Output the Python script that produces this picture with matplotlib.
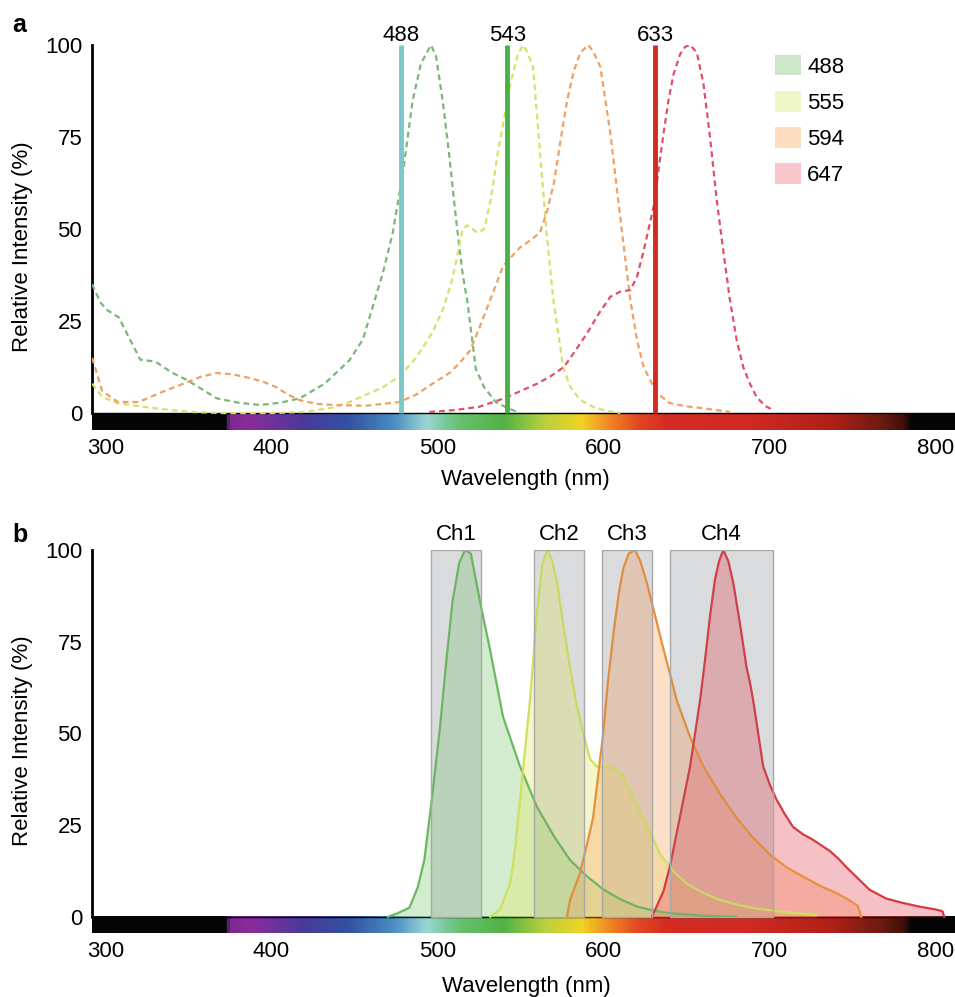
import numpy as np
import matplotlib
matplotlib.use("Agg")
import matplotlib.pyplot as plt
from matplotlib.colors import LinearSegmentedColormap, Normalize
from matplotlib.patches import Patch

plt.rcParams['font.family'] = ['Liberation Sans', 'DejaVu Sans']

## panel a : excitation spectra (dashed) + laser lines
ex488_nm = [292, 297, 301, 308, 321, 330, 340, 349, 358, 367, 380, 393, 405, 417, 432, 447, 455, 461, 467,
            473, 479, 485, 490, 496, 499, 503, 507, 511, 515, 518, 523, 528, 535, 542, 548]
ex488 = [35, 30, 28, 26, 14.5, 14, 11, 9, 6.5, 4, 2.8, 2.2, 2.8, 4, 8, 14.4, 20, 29, 38,
         49, 65, 85, 95, 100, 97, 85, 70, 53, 38, 30, 12, 7, 3, 1.4, 0.3]

ex555_nm = [292, 298, 307, 318, 328, 340, 352, 370, 400, 420, 437, 447, 457, 467, 477, 487, 497, 503, 508,
            512, 515, 518, 524, 528, 532, 536, 540, 544, 548, 551.5, 554, 557.5, 561.6, 565.6, 569.6, 575.6,
            580, 586, 593, 600, 610]
ex555 = [8, 4.4, 2.7, 2, 1.4, 0.8, 0.3, 0, 0, 0.3, 1.5, 3, 5, 7, 10, 15, 22, 28, 35,
         43, 50, 51, 49, 50, 58, 70, 80, 90, 97, 100, 98, 94, 71, 49, 31, 12.5,
         7, 3.5, 1.8, 0.8, 0]

ex594_nm = [292, 298, 307.5, 320, 334, 347, 357, 367, 377, 387, 395, 403, 410, 417, 427, 437, 457, 477, 487,
            497, 507.5, 514, 519.5, 525, 531.6, 539.5, 549.6, 556, 561.6, 566, 570, 574, 578, 582, 586,
            590.8, 594, 598, 604, 610, 616, 620, 624, 632, 640, 650, 660, 676]
ex594 = [15, 6, 3, 3, 5.7, 8, 9.8, 10.9, 10.5, 9.5, 8.5, 7, 5, 3.5, 2.5, 2.2, 2, 3, 5,
         8, 11, 14, 17, 23, 30.7, 40, 45, 47, 49, 55, 62.5, 74, 85, 93, 98,
         100, 98, 94, 76, 53, 30.7, 20, 12.5, 5.4, 2.7, 1.8, 1.3, 0.3]

ex647_nm = [495, 510, 525, 540, 550, 560, 568, 576, 583, 590, 597, 604, 610, 616, 620, 624, 627, 630, 633,
            636, 639, 642, 646, 649, 652, 656, 660, 664, 668, 672, 676, 680, 684, 688, 692, 697, 702]
ex647 = [0.3, 0.8, 1.7, 4, 6, 8, 10, 12.5, 17, 21.7, 27, 31.6, 33, 33.4, 37, 44, 50, 56, 66,
         76, 85, 92, 97.5, 99.5, 100, 98, 89.6, 75, 58, 44, 30.7, 20, 12.5, 8, 4.4, 2, 0.8]

laser_labels = ["488", "543", "633"]
laser_pos = [478, 542, 631]
dye_labels = ["488", "555", "594", "647"]

## panel b : emission spectra (filled) + detection channels
em488_nm = [470, 476, 483, 488, 492, 497, 501.5, 505.5, 509, 513, 516.5, 520, 525.5, 531.6, 539.4, 549.6,
            559.8, 570, 579.7, 590, 600, 610, 620, 630, 640, 660, 680]
em488 = [0, 1, 2.5, 8, 15.5, 34, 52, 71, 86, 96.5, 100, 99, 86, 72.7, 54.5, 41,
         30, 22, 15.5, 11, 7.4, 4.8, 2.8, 1.7, 1, 0.3, 0]

em555_nm = [531.6, 537.6, 543.6, 546.5, 549.6, 552.5, 555.6, 559.6, 563, 566, 569, 571.9, 575.5, 579.7,
            583.5, 587.7, 591.8, 595.8, 600, 603.8, 607.5, 610.8, 615.6, 619.5, 623.7, 629, 634, 642, 650,
            660, 670, 680, 690, 710, 728]
em555 = [0, 2, 9, 18, 32, 45, 59, 82, 96, 100, 97, 91, 80, 68,
         58, 50, 43, 41, 41, 41, 40, 39, 34.6, 31, 27, 22, 17, 12.5, 9,
         6.5, 4.6, 3.4, 2.4, 1.2, 0.5]

em594_nm = [577.9, 579.7, 582.5, 585.8, 589.5, 593.6, 596.5, 599.7, 602.5, 605.8, 609, 611.8, 615, 618.8,
            622, 626, 631, 636, 640, 644, 652, 660, 670, 680, 690, 700, 710, 720, 730, 740, 748, 753, 755]
em594 = [0, 4.6, 8, 12, 19, 27, 38, 50, 64, 77, 88, 95, 99, 100,
         97, 91, 82, 73, 66, 59, 49, 41, 33.5, 27, 21.5, 17, 13.5, 11, 8.5, 6.5, 4.5, 3, 0]

em647_nm = [629, 632, 636, 640, 644, 648, 652, 655, 658, 661, 664, 667, 669.5, 672, 675, 678, 682, 686, 688,
            690, 693, 696, 700, 704, 709, 714, 720, 726, 731, 736, 741, 746, 753, 760, 770, 780, 790, 800,
            804, 805]
em647 = [0, 3, 7, 14, 23, 32, 41, 50, 59, 70, 82, 92, 97, 100, 97, 91, 80, 68, 64,
         59, 50, 41, 36, 32, 28, 24.5, 22.5, 21, 19.5, 18, 16, 13.6, 10.5, 7.4, 5, 3.8, 2.8, 2,
         1.5, 0]

ch_labels = ["Ch1", "Ch2", "Ch3", "Ch4"]
ch_lo = [496, 558, 599, 640]
ch_hi = [526, 588, 629, 702]

y_ticks = [0, 25, 50, 75, 100]
x_ticks = [300, 400, 500, 600, 700, 800]

xlo, xhi = 291.9, 811.5

# spectrum bar colours (nm, colour)
spec_stops = [(291.9, "#050505"), (372.0, "#050505"), (374.0, "#7a2a8e"), (386, "#8a2c9c"),
              (419, "#4a3a9a"), (446, "#3352a2"), (473, "#4a8cc2"), (493, "#9ad6d4"),
              (513, "#66c070"), (540, "#52b244"), (564, "#b8d040"), (587, "#f0d424"),
              (604, "#f08424"), (621, "#e24822"), (638, "#d42c22"), (688, "#d02a22"),
              (739, "#b02018"), (769, "#6a1a12"), (782, "#401008"), (786, "#050505"), (811.5, "#050505")]
spec_cmap = LinearSegmentedColormap.from_list(
    "spec", [((p - xlo) / (xhi - xlo), c) for p, c in spec_stops])

fig = plt.figure(figsize=(9.55, 9.97), dpi=100)
ax_a = fig.add_axes([92/955, 1-430/997, 863/955, 385/997])
ax_b = fig.add_axes([92/955, 1-933/997, 863/955, 383/997])


def setup(ax, ybot):
    grad = np.linspace(xlo, xhi, 800)[None, :]
    ax.imshow(grad, cmap=spec_cmap, norm=Normalize(xlo, xhi), extent=[xlo, xhi, ybot, 0],
              aspect='auto', zorder=0, interpolation='bilinear')
    ax.plot([xlo, xhi], [0, 0], color="black", lw=1.0, zorder=1)
    ax.set_xlim(xlo, xhi)
    ax.set_ylim(ybot, 100)
    for s in ["top", "right", "bottom"]:
        ax.spines[s].set_visible(False)
    ax.spines["left"].set_linewidth(2)
    ax.spines["left"].set_bounds(0, 100)
    ax.set_xticks(x_ticks)
    ax.set_yticks(y_ticks)
    ax.tick_params(axis="x", length=0, labelsize=16, pad=6)
    ax.tick_params(axis="y", length=0, labelsize=16, pad=7)


setup(ax_a, -4.6)
setup(ax_b, -4.4)

## panel a
dash = (0, (2.6, 1.8))
ex_cols = ["#78b878", "#d8e06a", "#f0a060", "#e0506a"]
ax_a.plot(ex488_nm, ex488, color=ex_cols[0], lw=1.6, ls=dash, zorder=3)
ax_a.plot(ex555_nm, ex555, color=ex_cols[1], lw=1.6, ls=dash, zorder=3)
ax_a.plot(ex594_nm, ex594, color=ex_cols[2], lw=1.6, ls=dash, zorder=3)
ax_a.plot(ex647_nm, ex647, color=ex_cols[3], lw=1.6, ls=dash, zorder=3)

laser_cols = ["#7cc8c8", "#4caf48", "#d22a1e"]
for p, lab, c in zip(laser_pos, laser_labels, laser_cols):
    ax_a.plot([p, p], [0, 100], color=c, lw=3.5, solid_capstyle="butt", zorder=4)
    ax_a.text(p, 101.2, lab, ha="center", va="baseline", fontsize=16, clip_on=False)

leg_cols = ["#cce7c8", "#eef6c8", "#fddec0", "#f8c6cb"]
handles = [Patch(facecolor=c, edgecolor="none") for c in leg_cols]
ax_a.legend(handles, dye_labels, loc="upper left", bbox_to_anchor=(775/955, 1-55/997),
            bbox_transform=fig.transFigure, frameon=False, fontsize=16, borderpad=0,
            borderaxespad=0, handlelength=1.17, handleheight=1.04, handletextpad=0.28,
            labelspacing=0.6)

## panel b
# detection windows underneath, fills on top, window outlines last
for lo, hi, lab in zip(ch_lo, ch_hi, ch_labels):
    ax_b.bar(lo, 100, width=hi - lo, bottom=0, align="edge", color="#e2e3e5", lw=0, zorder=1.5)
    ax_b.bar(lo, 100, width=hi - lo, bottom=0, align="edge", color="#808080", alpha=0.08,
             edgecolor="none", zorder=5)
    ax_b.bar(lo, 100, width=hi - lo, bottom=0, align="edge", facecolor="none",
             edgecolor="#a8a8a8", lw=1, zorder=6)
    ax_b.text((lo + hi) / 2, 102.7, lab, ha="center", va="baseline", fontsize=16, clip_on=False)

fill_cols = ["#86c87c", "#e4ea6c", "#f8a866", "#e85462"]
line_cols = ["#6cb862", "#cfe060", "#e8903a", "#d43c44"]
for nm, v, fc, lc in zip([em488_nm, em555_nm, em594_nm, em647_nm], [em488, em555, em594, em647],
                         fill_cols, line_cols):
    ax_b.fill_between(nm, 0, v, color=fc, alpha=0.36, lw=0, zorder=2)
    ax_b.plot(nm, v, color=lc, lw=1.6, zorder=3)

## labels
fig.text(23/955, 1-247/997, "Relative Intensity (%)", rotation=90, ha="center", va="center", fontsize=16)
fig.text(23/955, 1-741/997, "Relative Intensity (%)", rotation=90, ha="center", va="center", fontsize=16)
fig.text(525/955, 1-485/997, "Wavelength (nm)", ha="center", va="baseline", fontsize=16)
fig.text(526/955, 1-992/997, "Wavelength (nm)", ha="center", va="baseline", fontsize=16)
fig.text(12/955, 1-32/997, "a", ha="left", va="baseline", fontsize=18, fontweight="bold")
fig.text(12/955, 1-542/997, "b", ha="left", va="baseline", fontsize=18, fontweight="bold")

fig.savefig("out.png", dpi=100)
